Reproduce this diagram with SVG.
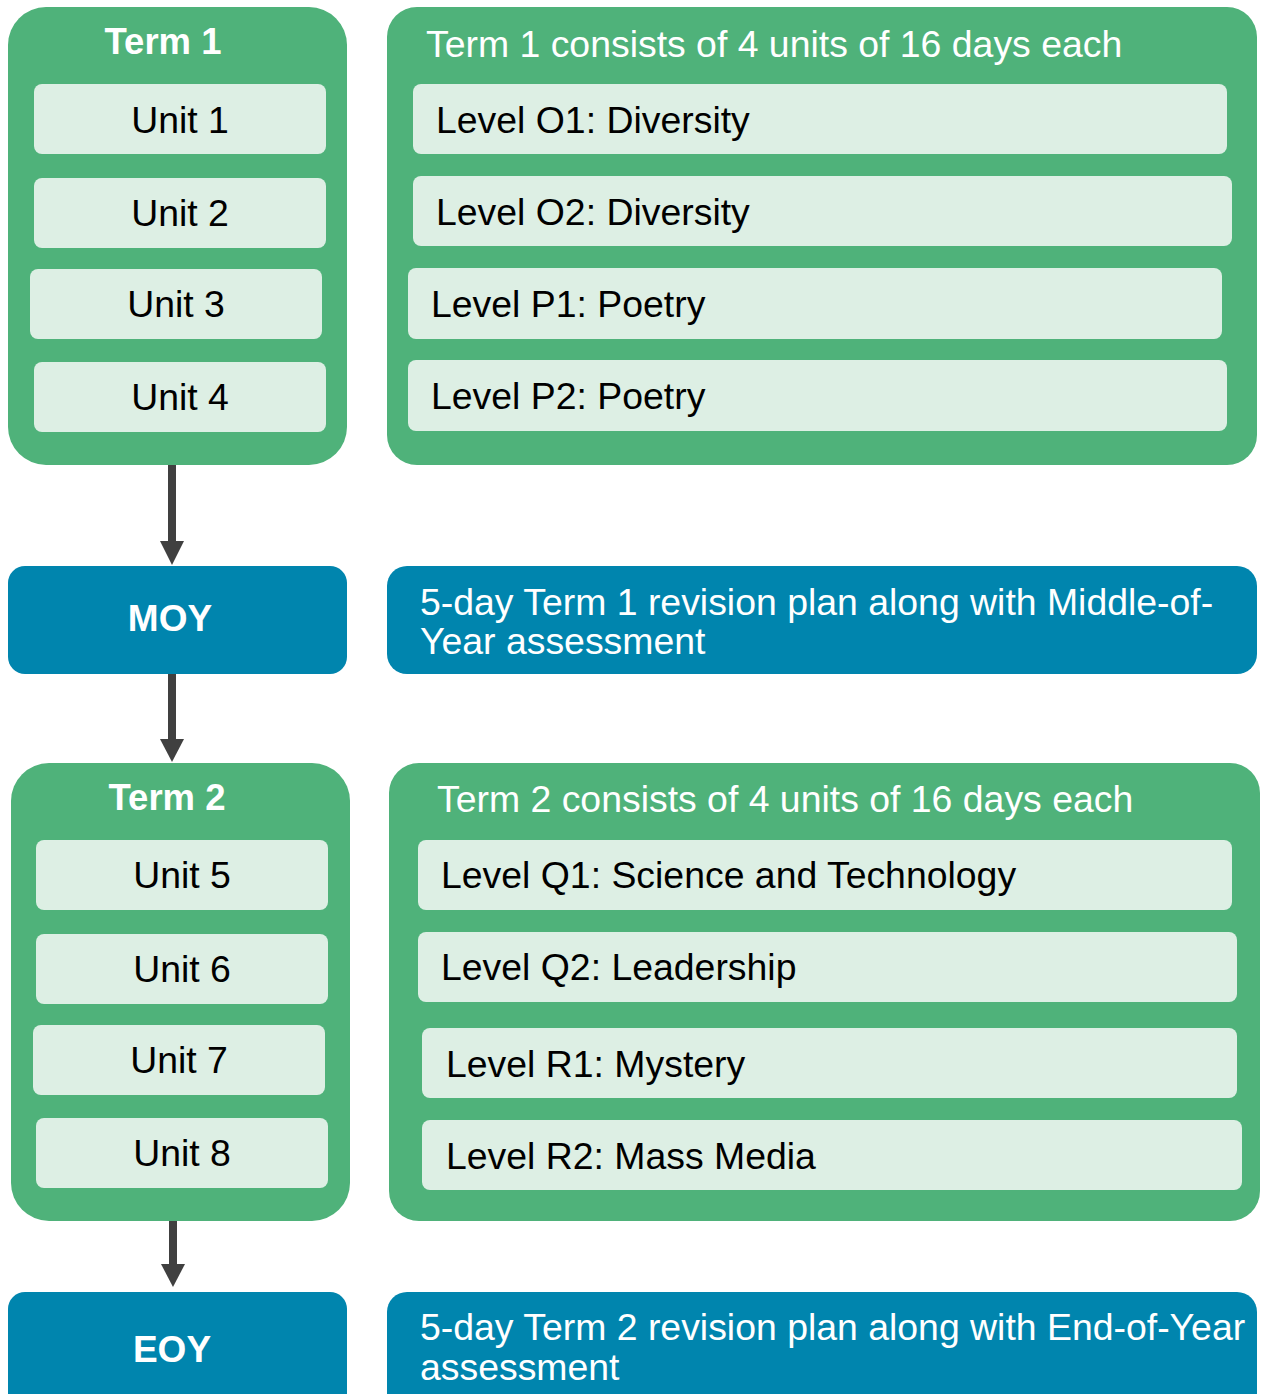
<svg xmlns="http://www.w3.org/2000/svg" width="1267" height="1394" viewBox="0 0 1267 1394">
  <style>
    .term { fill: #4FB27A; }
    .item { fill: #DDEFE4; }
    .blue { fill: #0085AE; }
    .t { font-family: "Liberation Sans", Arial, sans-serif; font-size: 37.4px; }
    .dark { fill: #000000; }
    .light { fill: #FFFFFF; }
    .bold { font-weight: bold; font-size: 36.5px; }
    .mid { text-anchor: middle; }
    .conn { stroke: #404040; stroke-width: 8; fill: none; }
    .head { fill: #404040; }
  </style>
  <rect width="1267" height="1394" fill="#FFFFFF"/>

  <!-- connectors -->
  <g id="connectors">
    <line class="conn" x1="172" y1="465" x2="172" y2="542"/>
    <polygon class="head" points="160,541 184,541 172,565"/>
    <line class="conn" x1="172" y1="674" x2="172" y2="740"/>
    <polygon class="head" points="160,739 184,739 172,762"/>
    <line class="conn" x1="173" y1="1221" x2="173" y2="1265"/>
    <polygon class="head" points="161,1264 185,1264 173,1287"/>
  </g>

  <!-- Term 1 -->
  <g id="term1">
    <rect class="term" x="8" y="7" width="339" height="458" rx="38"/>
    <text class="t bold light mid" x="163" y="54">Term 1</text>
    <rect class="item" x="34" y="84" width="292" height="70" rx="8"/>
    <text class="t dark mid" x="180" y="133">Unit 1</text>
    <rect class="item" x="34" y="178" width="292" height="70" rx="8"/>
    <text class="t dark mid" x="180" y="226">Unit 2</text>
    <rect class="item" x="30" y="269" width="292" height="70" rx="8"/>
    <text class="t dark mid" x="176" y="317">Unit 3</text>
    <rect class="item" x="34" y="362" width="292" height="70" rx="8"/>
    <text class="t dark mid" x="180" y="410">Unit 4</text>
  </g>

  <g id="term1-levels">
    <rect class="term" x="387" y="7" width="870" height="458" rx="30"/>
    <text class="t light" x="426" y="57">Term 1 consists of 4 units of 16 days each</text>
    <rect class="item" x="413" y="84" width="814" height="70" rx="8"/>
    <text class="t dark" x="436" y="133">Level O1: Diversity</text>
    <rect class="item" x="413" y="176" width="819" height="70" rx="8"/>
    <text class="t dark" x="436" y="225">Level O2: Diversity</text>
    <rect class="item" x="408" y="268" width="814" height="71" rx="8"/>
    <text class="t dark" x="431" y="317">Level P1: Poetry</text>
    <rect class="item" x="408" y="360" width="819" height="71" rx="8"/>
    <text class="t dark" x="431" y="409">Level P2: Poetry</text>
  </g>

  <!-- Middle of year -->
  <g id="moy">
    <rect class="blue" x="8" y="566" width="339" height="108" rx="17"/>
    <text class="t bold light mid" x="170" y="631" style="font-size:37px">MOY</text>
  </g>
  <g id="moy-plan">
    <rect class="blue" x="387" y="566" width="870" height="108" rx="20"/>
    <text class="t light" x="420" y="615">5-day Term 1 revision plan along with Middle-of-</text>
    <text class="t light" x="420" y="654">Year assessment</text>
  </g>

  <!-- Term 2 -->
  <g id="term2">
    <rect class="term" x="11" y="763" width="339" height="458" rx="38"/>
    <text class="t bold light mid" x="167" y="810">Term 2</text>
    <rect class="item" x="36" y="840" width="292" height="70" rx="8"/>
    <text class="t dark mid" x="182" y="888">Unit 5</text>
    <rect class="item" x="36" y="934" width="292" height="70" rx="8"/>
    <text class="t dark mid" x="182" y="982">Unit 6</text>
    <rect class="item" x="33" y="1025" width="292" height="70" rx="8"/>
    <text class="t dark mid" x="179" y="1073">Unit 7</text>
    <rect class="item" x="36" y="1118" width="292" height="70" rx="8"/>
    <text class="t dark mid" x="182" y="1166">Unit 8</text>
  </g>

  <g id="term2-levels">
    <rect class="term" x="389" y="763" width="871" height="458" rx="30"/>
    <text class="t light" x="437" y="812">Term 2 consists of 4 units of 16 days each</text>
    <rect class="item" x="418" y="840" width="814" height="70" rx="8"/>
    <text class="t dark" x="441" y="888">Level Q1: Science and Technology</text>
    <rect class="item" x="418" y="932" width="819" height="70" rx="8"/>
    <text class="t dark" x="441" y="980">Level Q2: Leadership</text>
    <rect class="item" x="422" y="1028" width="815" height="70" rx="8"/>
    <text class="t dark" x="446" y="1077">Level R1: Mystery</text>
    <rect class="item" x="422" y="1120" width="820" height="70" rx="8"/>
    <text class="t dark" x="446" y="1169">Level R2: Mass Media</text>
  </g>

  <!-- End of year -->
  <g id="eoy">
    <rect class="blue" x="8" y="1292" width="339" height="130" rx="17"/>
    <text class="t bold light mid" x="172" y="1362" style="font-size:37px">EOY</text>
  </g>
  <g id="eoy-plan">
    <rect class="blue" x="387" y="1292" width="870" height="130" rx="20"/>
    <text class="t light" x="420" y="1340">5-day Term 2 revision plan along with End-of-Year</text>
    <text class="t light" x="420" y="1380">assessment</text>
  </g>
</svg>
